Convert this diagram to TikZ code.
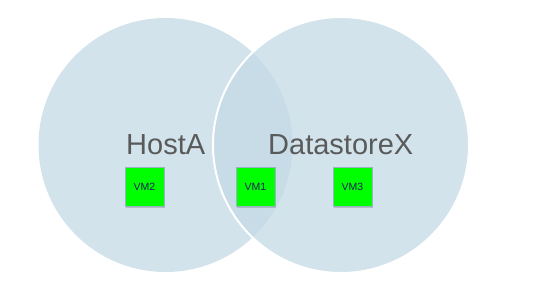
\documentclass[tikz,border=0pt]{standalone}
\usepackage{fontspec}
\setmainfont{Liberation Sans}
\usetikzlibrary{shadows}
\definecolor{circfill}{RGB}{196,218,230}
\definecolor{labelgray}{RGB}{90,90,90}
\definecolor{vmtext}{RGB}{30,30,90}
\definecolor{vmborder}{RGB}{150,180,200}
\tikzset{
  setcircle/.style={fill=circfill, fill opacity=0.75},
  biglabel/.style={text=labelgray, font=\fontsize{29}{32}\selectfont, inner sep=0pt},
  vmbox/.style={draw=vmborder, line width=0.8pt, fill=green, minimum width=39pt, minimum height=39pt, inner sep=0pt, text=vmtext, font=\fontsize{10.5}{11}\selectfont, drop shadow={shadow xshift=1pt, shadow yshift=-1.5pt, opacity=0.4}}
}
\begin{document}
\begin{tikzpicture}[x=1pt,y=-1pt]
\useasboundingbox (0,0) rectangle (534,290);
\fill[white] (0,0) rectangle (534,290);
\fill[setcircle] (165.5,145) circle[radius=127];
\fill[setcircle] (341,145) circle[radius=128];
\draw[white, line width=2pt] (341,145) circle[radius=128];
\node[biglabel, anchor=base west] (hosta) at (126,154) {HostA};
\node[biglabel, anchor=base west] (ds) at (268,154) {DatastoreX};
\node[vmbox] (vm2) at (144.5,186.5) {VM2};
\node[vmbox] (vm1) at (255.5,186.5) {VM1};
\node[vmbox] (vm3) at (352.5,186.5) {VM3};
\end{tikzpicture}
\end{document}
